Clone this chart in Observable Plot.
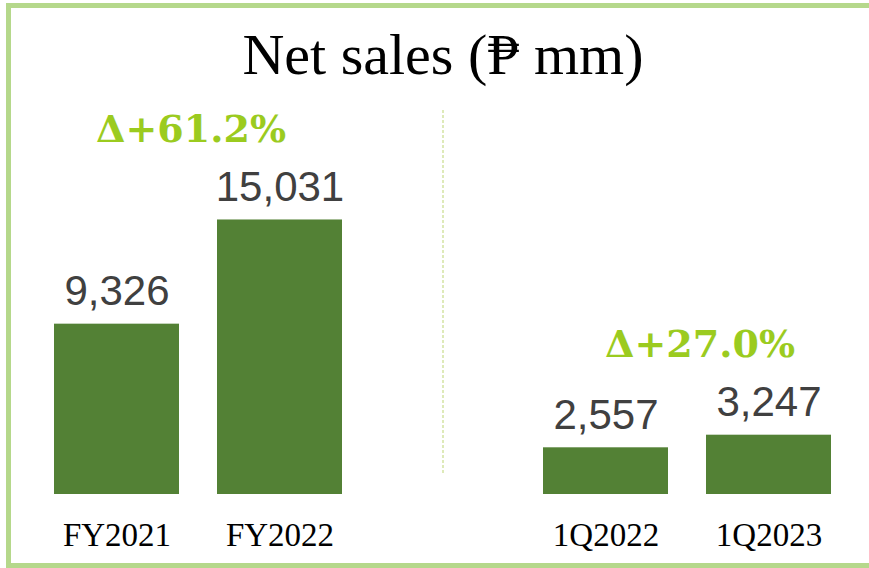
<!DOCTYPE html>
<html>
<head>
<meta charset="utf-8">
<script src="https://cdn.jsdelivr.net/npm/d3@7"></script>
<script src="https://cdn.jsdelivr.net/npm/@observablehq/plot@0.6"></script>
<style>
  html, body { margin: 0; padding: 0; background: #fff; overflow: hidden; }
  #wrap { position: relative; width: 869px; height: 568px; overflow: hidden; }
  #frame { position: absolute; left: 6px; top: 3px; width: 1000px;
           border: 5px solid #b5d88b; box-sizing: border-box; height: 565px; }
  #title { position: absolute; left: 0; width: 886px; top: 26px; text-align: center;
           font-family: "Liberation Serif", serif; font-size: 58px; line-height: 58px; color: #000; }
  #chart { position: absolute; left: 0; top: 90px; }
</style>
</head>
<body>
<div id="wrap">
  <div id="frame"></div>
  <div id="title">Net sales (₱ mm)</div>
  <div id="chart"></div>
</div>
<script>
const categories = ["FY2021", "FY2022", "gap", "1Q2022", "1Q2023"];
const periods = ["FY2021", "FY2022", "1Q2022", "1Q2023"];
const netSales = [9326, 15031, 2557, 3247];
const deltaLabels = ["Δ+61.2%", "Δ+27.0%"];
const deltaAt = ["FY2022", "1Q2023"];
const deltaBase = [15031, 3247];

const bars = periods.map((p, i) => ({period: p, value: netSales[i]}));
const deltas = deltaLabels.map((t, i) => ({label: t, period: deltaAt[i], value: deltaBase[i]}));

const deltaStyle = {x: "period", y: "value", text: "label", dy: -78, lineAnchor: "bottom",
  fontFamily: "DejaVu Serif, serif", fontWeight: "bold", fontSize: 38, fill: "#9bcb1f"};

const chart = Plot.plot({
  width: 869,
  height: 478,
  marginTop: 0,
  marginBottom: 74,
  marginLeft: 35,
  marginRight: 19,
  x: {domain: categories, paddingInner: 0.233, paddingOuter: 0.1165},
  y: {domain: [0, 22120], axis: null},
  marks: [
    Plot.ruleX(["gap"], {stroke: "#d3e4a3", strokeWidth: 1.5, strokeDasharray: "3,2", insetTop: 20, insetBottom: 19}),
    Plot.barY(bars, {x: "period", y: "value", fill: "#538135"}),
    Plot.text(bars, {x: "period", y: "value", text: d => d3.format(",")(d.value), dy: -19, lineAnchor: "bottom",
      fontFamily: "Liberation Sans, Arial, sans-serif", fontSize: 42, fill: "#404040"}),
    Plot.text(deltas.slice(0, 1), {...deltaStyle, dx: -89}),
    Plot.text(deltas.slice(1), {...deltaStyle, dx: -69}),
    Plot.axisX({tickSize: 0, tickPadding: 28, tickFormat: d => d === "gap" ? "" : d, label: null,
      fontFamily: "Liberation Serif, serif", fontSize: 33, color: "#000"})
  ]
});
document.getElementById("chart").appendChild(chart);
</script>
</body>
</html>
